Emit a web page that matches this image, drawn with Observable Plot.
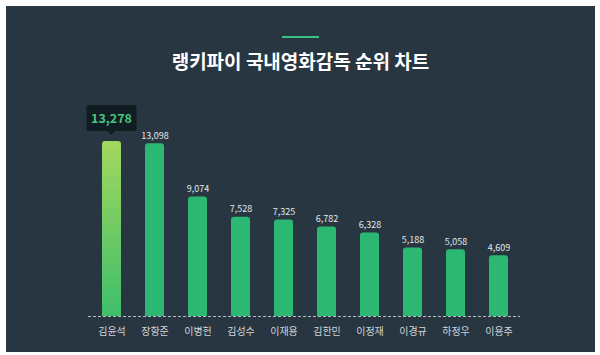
<!DOCTYPE html>
<html><head><meta charset="utf-8">
<script src="https://cdn.jsdelivr.net/npm/d3@7"></script>
<script src="https://cdn.jsdelivr.net/npm/@observablehq/plot@0.6"></script>
<style>
body{margin:0;background:#fff;width:600px;height:355px;overflow:hidden;font-family:"Noto Sans CJK KR","Noto Sans",sans-serif}
#panel{position:absolute;left:6px;top:6px;width:589px;height:346px;background:#283641;}
#accent{position:absolute;left:276px;top:30px;width:37px;height:2px;background:#3cbf82;}
#title{position:absolute;left:0;top:44px;width:100%;text-align:center;font-size:19px;font-weight:700;color:#fff;line-height:22px;}
#chart{position:absolute;left:0;top:84px;}
</style></head><body>
<div id="panel"><div id="accent"></div><div id="title">랭키파이 국내영화감독 순위 차트</div><div id="chart"></div></div>
<script>
const names = ["김윤석","장항준","이병헌","김성수","이재용","김한민","이정재","이경규","하정우","이용주"];
const values = [13278,13098,9074,7528,7325,6782,6328,5188,5058,4609];
const data = names.map((name, i) => ({name, value: values[i], rank: i}));
const fmt = d3.format(",");
const barColor = "#2cb872";
const font = '"Noto Sans CJK KR","Noto Sans",sans-serif';

const defsMark = () => {
  const defs = d3.create("svg:defs");
  const g = defs.append("linearGradient").attr("id", "topGrad").attr("x1", 0).attr("y1", 0).attr("x2", 0).attr("y2", 1);
  g.append("stop").attr("offset", "0%").attr("stop-color", "#a2d75e");
  g.append("stop").attr("offset", "100%").attr("stop-color", "#3fbf6c");
  return defs.node();
};

const tipMark = (index, scales) => {
  const x = scales.x, y = scales.y;
  const bw = x.bandwidth ? x.bandwidth() : 0;
  const cx = x(names[0]) + bw / 2;
  const top = y(values[0]);
  const w = 50, h = 26, gap = 10;
  const g = d3.create("svg:g");
  const by = top - gap - h;
  g.append("rect").attr("x", cx - w / 2).attr("y", by).attr("width", w).attr("height", h)
    .attr("rx", 2).attr("fill", "#111c23");
  g.append("path").attr("d", `M${cx - 4},${by + h} L${cx},${by + h + 4} L${cx + 4},${by + h} Z`).attr("fill", "#111c23");
  g.append("text").attr("x", cx).attr("y", by + h / 2).attr("dy", "0.36em").attr("text-anchor", "middle")
    .attr("font-size", 12.5).attr("font-weight", 700).attr("fill", "#47c67f").attr("font-family", font)
    .text(fmt(values[0]));
  return g.node();
};

const plot = Plot.plot({
  width: 589, height: 262,
  marginTop: 51, marginBottom: 36, marginLeft: 71, marginRight: 63,
  style: {background: "transparent", fontFamily: font, overflow: "visible"},
  x: {domain: names, padding: 0.56, label: null},
  y: {domain: [0, values[0]], axis: null},
  marks: [
    defsMark,
    Plot.barY(data, {filter: d => d.rank > 0, x: "name", y: "value", fill: barColor, ry1: 3}),
    Plot.barY(data, {filter: d => d.rank === 0, x: "name", y: "value", fill: "url(#topGrad)", ry1: 3}),
    Plot.ruleY([0], {stroke: "#b4bdc4", strokeDasharray: "3,2", insetLeft: 11, insetRight: 12}),
    Plot.text(data, {filter: d => d.rank > 0, x: "name", y: "value", text: d => fmt(d.value), dy: -8, fill: "#e4e8eb", fontSize: 9}),
    Plot.axisX({tickSize: 0, tickPadding: 11, fontSize: 10, color: "#cfd5da", label: null}),
    tipMark
  ]
});
document.getElementById("chart").appendChild(plot);
</script>
</body></html>
